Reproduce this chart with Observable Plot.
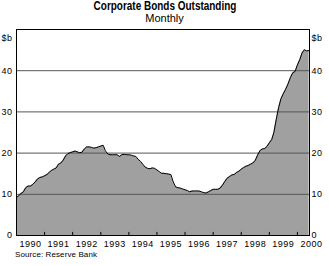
<!DOCTYPE html>
<html><head><meta charset="utf-8">
<script src="https://cdn.jsdelivr.net/npm/d3@7"></script>
<script src="https://cdn.jsdelivr.net/npm/@observablehq/plot@0.6"></script>
<style>
body{margin:0;background:#fff;width:329px;height:265px;position:relative;overflow:hidden;font-family:"Liberation Sans",Arial,sans-serif;color:#000;}
#title{position:absolute;left:0;top:0;width:329px;text-align:center;font-weight:bold;font-size:12px;line-height:12px;}
#title span{display:inline-block;transform:scaleX(0.83);transform-origin:50% 50%;white-space:nowrap;}
#subtitle{position:absolute;left:0;top:13px;width:329px;text-align:center;font-size:11px;line-height:11px;}
#chart{position:absolute;left:0;top:24px;}
#source{position:absolute;left:15px;top:250px;font-size:8px;line-height:10px;letter-spacing:0.1px;}
</style></head><body>
<div id="title"><span>Corporate Bonds Outstanding</span></div>
<div id="subtitle">Monthly</div>
<div id="chart"></div>
<div id="source">Source: Reserve Bank</div>
<script>
// Monthly values, $b, starting January 1990
const values = [
  9.2, 9.7, 10.2, 10.6, 11.6, 12.0, 12.0, 12.4, 13.0, 13.7, 14.1, 14.2,
  14.5, 14.8, 15.3, 15.8, 16.1, 16.4, 17.3, 17.6, 18.3, 19.3, 19.9, 20.1,
  20.3, 20.5, 20.3, 20.1, 20.2, 21.0, 21.5, 21.5, 21.4, 21.2, 21.3, 21.5,
  21.7, 21.9, 20.6, 19.8, 19.6, 19.6, 19.6, 19.6, 19.2, 19.6, 19.7, 19.6,
  19.6, 19.5, 19.3, 19.2, 18.5, 18.0, 17.3, 16.6, 16.3, 16.2, 16.4, 16.3,
  15.9, 15.5, 15.1, 15.1, 15.0, 14.9, 14.8, 13.0, 11.8, 11.6, 11.5, 11.3,
  11.1, 10.9, 10.6, 10.8, 10.8, 10.8, 10.8, 10.6, 10.4, 10.3, 10.6, 10.9,
  11.2, 11.2, 11.2, 11.5, 12.2, 13.1, 13.9, 14.3, 14.7, 14.8, 15.3, 15.6,
  16.1, 16.5, 16.8, 17.0, 17.3, 17.6, 18.2, 19.5, 20.6, 21.0, 21.1, 21.6,
  22.5, 23.3, 25.0, 28.2, 31.0, 33.2, 34.4, 35.5, 36.8, 38.3, 39.5, 39.8,
  41.4, 42.7, 44.3, 45.1, 44.8, 44.9
];
const yTicks = [0, 10, 20, 30, 40];
const yearLabels = ["1990","1991","1992","1993","1994","1995","1996","1997","1998","1999","2000"];
const unitLabel = "$b";

const t0 = new Date(Date.UTC(1990, 0, 1));
const data = values.map((v, i) => ({date: d3.utcMonth.offset(t0, i), value: v}));
const yearStarts = yearLabels.slice(1).map(y => new Date(Date.UTC(+y, 0, 1)));

const chart = Plot.plot({
  width: 329, height: 227,
  marginTop: 5, marginBottom: 16, marginLeft: 16, marginRight: 20,
  x: {type: "utc", domain: [t0, new Date(Date.UTC(2000, 5, 6))], axis: null},
  y: {domain: [0, 50]},
  style: {fontFamily: "'Liberation Sans', Arial, sans-serif", fontSize: "9px", background: "white", color: "black", letterSpacing: "0.5px"},
  marks: [
    Plot.areaY(data, {x: "date", y: "value", fill: "#a0a0a0"}),
    Plot.ruleY(yTicks.slice(1), {stroke: "#555"}),
    Plot.lineY(data, {x: "date", y: "value", stroke: "black", strokeWidth: 1}),
    Plot.ruleX(yearStarts, {y1: 0, y2: 0.75, stroke: "black"}),
    Plot.frame({stroke: "black"}),
    Plot.axisY(yTicks, {anchor: "left", tickSize: 0, tickPadding: 4, label: null, fontSize: 9}),
    Plot.axisY(yTicks, {anchor: "right", tickSize: 0, tickPadding: 2, label: null, fontSize: 9}),
    Plot.text(yearLabels, {x: y => new Date(Date.UTC(+y, 6, 1)), text: d => d, frameAnchor: "bottom", dy: 11.5, fontSize: 9}),
    Plot.text([unitLabel], {frameAnchor: "top-left", dx: -4, dy: 5, textAnchor: "end", fontSize: 9}),
    Plot.text([unitLabel], {frameAnchor: "top-right", dx: 2, dy: 5, textAnchor: "start", fontSize: 9})
  ]
});
document.getElementById("chart").appendChild(chart);
</script>
</body></html>
